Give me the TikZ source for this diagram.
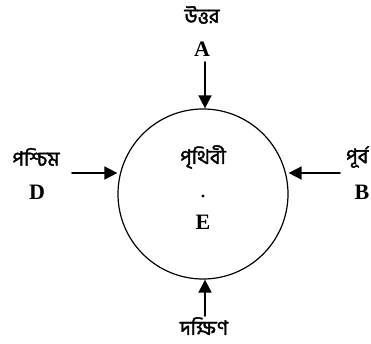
\documentclass[tikz,border=0pt]{standalone}
\usepackage{fontspec}
\setmainfont{Liberation Serif}
\newfontfamily\bnfont[Script=Bengali,FakeBold=2]{Hind Siliguri}
\usetikzlibrary{arrows.meta}
\begin{document}
\begin{tikzpicture}[x=1pt,y=-1pt,line cap=round,line join=round]
  \tikzset{
    bnlabel/.style={font=\bnfont\fontsize{20}{20}\selectfont,inner sep=0pt},
    letter/.style={font=\fontsize{22}{22}\selectfont\bfseries,inner sep=0pt},
    push/.style={draw=black,line width=1.6pt,-{Triangle[length=13pt,width=13pt]}}
  }
  \useasboundingbox (0,0) rectangle (371,344);
  % the earth with its centre point
  \node[draw,circle,line width=1.2pt,minimum size=170pt,inner sep=0pt] (earth) at (203,194) {};
  \node[bnlabel] (earthname) at (203,157) {পৃথিবী};
  \fill (203,196) circle (1.7pt);
  \node[letter] (E) at (203,222) {E};
  % four directions
  \node[bnlabel] (north) at (202,15) {উত্তর};
  \node[letter] (A) at (202,49) {A};
  \node[bnlabel] (west) at (36,157) {পশ্চিম};
  \node[letter] (D) at (37,192) {D};
  \node[bnlabel,anchor=west] (east) at (346,157) {পূর্ব};
  \node[letter] (B) at (362,192) {B};
  \node[bnlabel] (south) at (204,326) {দক্ষিণ};
  \coordinate (fromA) at (205,62);
  \coordinate (fromD) at (72,173);
  \coordinate (fromB) at (340,173);
  \coordinate (fromS) at (205,316);
  \draw[push] (fromA) -- (earth.north -| fromA);
  \draw[push] (fromD) -- (earth.west |- fromD);
  \draw[push] (fromB) -- (earth.east |- fromB);
  \draw[push] (fromS) -- (earth.south -| fromS);
\end{tikzpicture}
\end{document}
